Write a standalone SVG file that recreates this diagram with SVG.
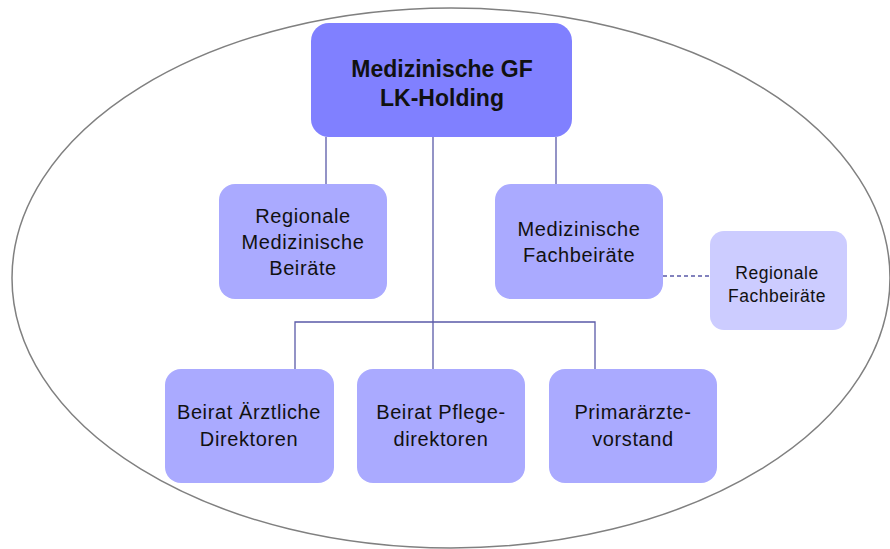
<svg xmlns="http://www.w3.org/2000/svg" width="890" height="549" viewBox="0 0 890 549">
<style>
.t{font-family:"Liberation Sans",Arial,sans-serif;fill:#111;text-anchor:middle;}
.n{font-size:20px;letter-spacing:0.6px;}
.s{font-size:17.5px;letter-spacing:0.5px;}
.b{font-size:23px;font-weight:bold;}
.c{stroke:#5A5AA8;stroke-width:1.3;fill:none;}
.box1{fill:#8080FF;}
.box2{fill:#AAAAFF;}
.box3{fill:#CCCCFF;}
</style>
<rect width="890" height="549" fill="#fff"/>
<ellipse cx="451" cy="278" rx="439" ry="270" fill="none" stroke="#808080" stroke-width="1.5"/>
<g id="connectors">
<path class="c" d="M326 137V184M556 137V184M433 137V369M295 369V322H595V369"/>
<path class="c" d="M663 276H710" stroke-dasharray="4 3" stroke="#333399"/>
</g>
<g id="n-top">
<rect class="box1" x="311" y="23" width="261" height="114" rx="18"/>
<text class="t b" x="442" y="77">Medizinische GF</text>
<text class="t b" x="442" y="106">LK-Holding</text>
</g>
<g id="n-rmb">
<rect class="box2" x="219" y="184" width="168" height="115" rx="16"/>
<text class="t n" x="303" y="223">Regionale</text>
<text class="t n" x="303" y="249">Medizinische</text>
<text class="t n" x="303" y="275">Beiräte</text>
</g>
<g id="n-mfb">
<rect class="box2" x="495" y="184" width="168" height="115" rx="16"/>
<text class="t n" x="579" y="236">Medizinische</text>
<text class="t n" x="579" y="262">Fachbeiräte</text>
</g>
<g id="n-rfb">
<rect class="box3" x="710" y="231" width="137" height="99" rx="14"/>
<text class="t s" x="777" y="279">Regionale</text>
<text class="t s" x="777" y="302">Fachbeiräte</text>
</g>
<g id="n-bad">
<rect class="box2" x="165" y="369" width="169" height="114" rx="16"/>
<text class="t n" x="249" y="419">Beirat Ärztliche</text>
<text class="t n" x="249" y="446">Direktoren</text>
</g>
<g id="n-bpd">
<rect class="box2" x="357" y="369" width="168" height="114" rx="16"/>
<text class="t n" x="441" y="419">Beirat Pflege-</text>
<text class="t n" x="441" y="446">direktoren</text>
</g>
<g id="n-pv">
<rect class="box2" x="549" y="369" width="168" height="114" rx="16"/>
<text class="t n" x="633" y="419">Primarärzte-</text>
<text class="t n" x="633" y="446">vorstand</text>
</g>
</svg>
